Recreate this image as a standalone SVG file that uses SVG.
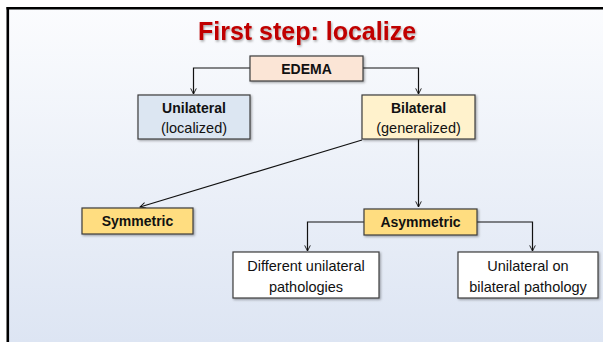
<svg xmlns="http://www.w3.org/2000/svg" width="603" height="342" viewBox="0 0 603 342">
<defs>
<linearGradient id="bg" x1="0" y1="0" x2="0" y2="1">
<stop offset="0" stop-color="#fbfcfe"/>
<stop offset="1" stop-color="#dde5f3"/>
</linearGradient>
<filter id="sh" x="-10%" y="-10%" width="130%" height="140%">
<feDropShadow dx="1.2" dy="1.2" stdDeviation="0.9" flood-color="#000" flood-opacity="0.35"/>
</filter>
<filter id="tsh" x="-10%" y="-20%" width="130%" height="160%">
<feDropShadow dx="1" dy="1.5" stdDeviation="1.2" flood-color="#000" flood-opacity="0.35"/>
</filter>
<marker id="arr" viewBox="0 0 10 10" refX="9" refY="5" markerWidth="7" markerHeight="7" markerUnits="userSpaceOnUse" orient="auto">
<path d="M1,1 L9,5 L1,9" fill="none" stroke="#111" stroke-width="1.3"/>
</marker>
<style>
.box{stroke:#3c3c3c;stroke-width:1.2;filter:url(#sh)}
.b{font-family:"Liberation Sans",Arial,sans-serif;font-weight:bold;font-size:14px;fill:#111;text-anchor:middle}
.r{font-family:"Liberation Sans",Arial,sans-serif;font-size:14.5px;fill:#111;text-anchor:middle}
.c{fill:none;stroke:#111;stroke-width:1.2;marker-end:url(#arr)}
</style>
</defs>
<rect x="0" y="0" width="603" height="342" fill="#ffffff"/>
<rect x="8" y="8" width="595" height="334" fill="url(#bg)"/>
<line x1="6.5" y1="8.2" x2="603" y2="8.2" stroke="#000" stroke-width="2.6"/>
<line x1="7.8" y1="7" x2="7.8" y2="342" stroke="#000" stroke-width="2.6"/>
<text x="307" y="40" font-family="'Liberation Sans',Arial,sans-serif" font-weight="bold" font-size="25" fill="#c00000" text-anchor="middle" filter="url(#tsh)">First step: localize</text>
<g id="connectors">
<path class="c" d="M250,68 H193.5 V94"/>
<path class="c" d="M363,68 H418.5 V94"/>
<line class="c" x1="362" y1="140" x2="140" y2="207"/>
<path class="c" d="M418.5,139 V207"/>
<path class="c" d="M364,222 H307.5 V251"/>
<path class="c" d="M477,222 H532.5 V251"/>
</g>
<g id="edema">
<rect class="box" x="250" y="56" width="113" height="25" fill="#fbe5d6"/>
<text class="b" x="306.5" y="73.5">EDEMA</text>
</g>
<g id="unilateral">
<rect class="box" x="138" y="95" width="112" height="44" fill="#dce6f2"/>
<text class="b" x="194" y="113">Unilateral</text>
<text class="r" x="194" y="133">(localized)</text>
</g>
<g id="bilateral">
<rect class="box" x="362" y="95" width="113" height="44" fill="#fff2cc"/>
<text class="b" x="418.5" y="113">Bilateral</text>
<text class="r" x="418.5" y="133">(generalized)</text>
</g>
<g id="symmetric">
<rect class="box" x="82" y="208" width="111" height="26" fill="#ffdd80"/>
<text class="b" x="137.5" y="226">Symmetric</text>
</g>
<g id="asymmetric">
<rect class="box" x="364" y="209" width="113" height="26" fill="#ffdd80"/>
<text class="b" x="420.5" y="227">Asymmetric</text>
</g>
<g id="different">
<rect class="box" x="233" y="252" width="146" height="46" fill="#ffffff"/>
<text class="r" x="306" y="271">Different unilateral</text>
<text class="r" x="306" y="292">pathologies</text>
</g>
<g id="unilateral-on">
<rect class="box" x="458" y="252" width="140" height="46" fill="#ffffff"/>
<text class="r" x="528" y="271">Unilateral on</text>
<text class="r" x="528" y="292">bilateral pathology</text>
</g>
</svg>
